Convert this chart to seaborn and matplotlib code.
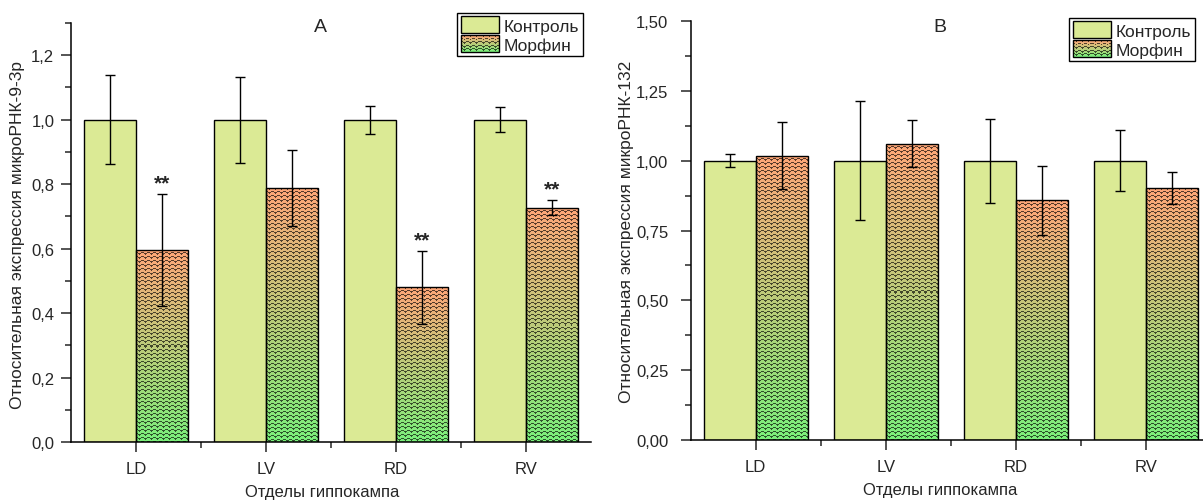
import numpy as np
import pandas as pd
import seaborn as sns
import matplotlib.pyplot as plt
from matplotlib.patches import Patch, Rectangle
from matplotlib.legend_handler import HandlerBase
from matplotlib.image import BboxImage
from matplotlib.transforms import Bbox, TransformedBbox
from matplotlib.ticker import MultipleLocator, FuncFormatter, FixedLocator

regions = ['LD', 'LV', 'RD', 'RV']
groups = ['Контроль', 'Морфин']

a_ctrl = [1.0, 1.0, 1.0, 1.0]
a_ctrl_err = [0.138, 0.133, 0.044, 0.038]
a_morph = [0.596, 0.787, 0.48, 0.727]
a_morph_err = [0.174, 0.118, 0.113, 0.023]
a_stars = ['**', '', '**', '**']

b_ctrl = [1.0, 1.0, 1.0, 1.0]
b_ctrl_err = [0.024, 0.213, 0.15, 0.11]
b_morph = [1.018, 1.061, 0.858, 0.902]
b_morph_err = [0.12, 0.085, 0.123, 0.057]

ctrl_color = '#DBEA95'

sns.set_style('ticks')
plt.rcParams['font.family'] = ['Liberation Sans', 'DejaVu Sans']


def texture(h, w):
    # gradient orange -> green with dark zigzag lines
    rows = np.arange(h)[:, None]
    cols = np.arange(w)[None, :]
    t = (rows / max(h - 1, 1))[..., None]
    top = np.array([1.0, 0.65, 0.47])
    bot = np.array([0.48, 0.94, 0.48])
    base = top * (1 - t) + bot * t
    base = np.broadcast_to(base, (h, w, 3))
    tri = np.abs((cols % 6) - 3) * 0.6
    phase = (rows + tri) % 4
    line = (phase < 1.1)[..., None]
    return np.where(line, base * 0.35, base)


class GradHandler(HandlerBase):
    def create_artists(self, legend, orig_handle, xdescent, ydescent,
                       width, height, fontsize, trans):
        bb = TransformedBbox(Bbox.from_bounds(-xdescent, -ydescent, width, height), trans)
        im = BboxImage(bb, interpolation='nearest')
        im.set_data(texture(19, 38))
        rect = Rectangle((-xdescent, -ydescent), width, height, facecolor='none',
                         edgecolor='black', lw=1, transform=trans)
        return [im, rect]


def draw_panel(ax, ctrl, ctrl_err, morph, morph_err, ymax, ystep, fmt, stars=None):
    df = pd.DataFrame({
        'region': regions * 2,
        'value': ctrl + morph,
        'group': [groups[0]] * 4 + [groups[1]] * 4,
    })
    sns.barplot(data=df, x='region', y='value', hue='group', hue_order=groups,
                palette={groups[0]: ctrl_color, groups[1]: 'white'}, saturation=1,
                edgecolor='black', linewidth=1, errorbar=None, width=0.8,
                legend=False, ax=ax)
    ax.set_xlim(-0.5, 3.5)
    ax.set_ylim(0, ymax)

    # gradient + zigzag fill for morphine bars
    for bar in ax.containers[1]:
        x0, w, h = bar.get_x(), bar.get_width(), bar.get_height()
        p0 = ax.transData.transform((x0, 0))
        p1 = ax.transData.transform((x0 + w, h))
        wpx = max(int(round(abs(p1[0] - p0[0]))), 1)
        hpx = max(int(round(abs(p1[1] - p0[1]))), 1)
        im = ax.imshow(texture(hpx, wpx), extent=[x0, x0 + w, 0, h], aspect='auto',
                       interpolation='nearest', zorder=1.5)
        im.set_clip_path(bar)
        bar.set_facecolor('none')
        bar.set_zorder(2)
    for bar in ax.containers[0]:
        bar.set_zorder(2)

    for cont, errs in zip(ax.containers, [ctrl_err, morph_err]):
        xs = [b.get_x() + b.get_width() / 2 for b in cont]
        ys = [b.get_height() for b in cont]
        ax.errorbar(xs, ys, yerr=errs, fmt='none', ecolor='black', elinewidth=1,
                    capsize=3.5, capthick=1, zorder=4)

    if stars:
        for b, s, e in zip(ax.containers[1], stars, morph_err):
            if s:
                ax.text(b.get_x() + b.get_width() / 2, b.get_height() + e + 0.035, s,
                        ha='center', va='center', fontsize=15, fontweight='bold')

    ax.set_xlim(-0.5, 3.5)
    ax.set_ylim(0, ymax)
    ax.yaxis.set_major_locator(MultipleLocator(ystep))
    ax.yaxis.set_minor_locator(MultipleLocator(ystep / 2))
    ax.set_xticks(range(4))
    ax.xaxis.set_minor_locator(FixedLocator([0.5, 1.5, 2.5]))
    ax.yaxis.set_major_formatter(FuncFormatter(lambda v, p: fmt.format(v).replace('.', ',')))
    ax.tick_params(axis='both', which='major', length=7, width=1.1, labelsize=12, direction='out')
    ax.tick_params(axis='both', which='minor', length=4, width=1.1, direction='out')
    ax.tick_params(axis='x', pad=7)
    sns.despine(ax=ax)
    for sp in ['left', 'bottom']:
        ax.spines[sp].set_linewidth(1.1)
        ax.spines[sp].set_color('black')
    ax.set_xlabel('Отделы гиппокампа', fontsize=12)


fig = plt.figure(figsize=(12.03, 5.02), dpi=100)
axA = fig.add_axes([71 / 1203, 59 / 502, 520 / 1203, 419 / 502])
axB = fig.add_axes([690.7 / 1203, 61 / 502, 520 / 1203, 419 / 502])

draw_panel(axA, a_ctrl, a_ctrl_err, a_morph, a_morph_err, 1.3, 0.2, '{:.1f}', a_stars)
draw_panel(axB, b_ctrl, b_ctrl_err, b_morph, b_morph_err, 1.5, 0.25, '{:.2f}')

axA.tick_params(axis='y', pad=5)
axB.tick_params(axis='y', pad=9)

axA.set_ylabel('Относительная экспрессия микроРНК-9-3р', fontsize=12.5)
axB.set_ylabel('Относительная экспрессия микроРНК-132', fontsize=12.5)
axA.yaxis.set_label_coords((25 - 71) / 520, 0.496)
axB.yaxis.set_label_coords((634 - 690.7) / 520, 0.5)
axA.xaxis.set_label_coords((322 - 71) / 520, -0.1)
axB.xaxis.set_label_coords((940 - 690.7) / 520, -0.1)

fig.text(320 / 1203, 1 - 28 / 502, 'A', ha='center', va='center', fontsize=14)
fig.text(940 / 1203, 1 - 28 / 502, 'B', ha='center', va='center', fontsize=14)

handles = [Patch(facecolor=ctrl_color, edgecolor='black'),
           Patch(facecolor='none', edgecolor='black')]
for ax, anchor in [(axA, (583 / 1203, 1 - 14 / 502)), (axB, (1195 / 1203, 1 - 19 / 502))]:
    leg = ax.legend(handles, groups, loc='upper right', bbox_to_anchor=anchor,
                    bbox_transform=fig.transFigure, fontsize=12.5, frameon=True,
                    fancybox=False, framealpha=1, edgecolor='black',
                    handlelength=2.2, handleheight=1.1, handletextpad=0.3,
                    labelspacing=0.1, borderpad=0.2, borderaxespad=0,
                    handler_map={handles[1]: GradHandler()})
    leg.get_frame().set_linewidth(1)

fig.savefig('out.png', dpi=100)
